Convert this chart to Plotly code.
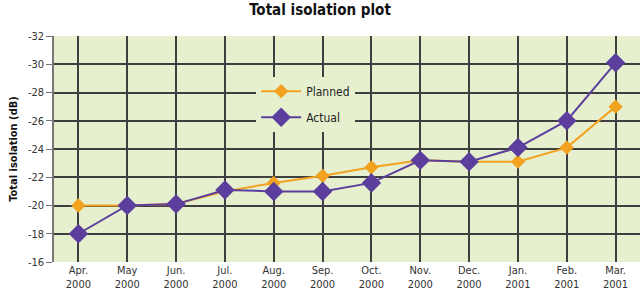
import plotly.graph_objects as go

months = ["Apr.<br>2000", "May<br>2000", "Jun.<br>2000", "Jul.<br>2000", "Aug.<br>2000", "Sep.<br>2000",
          "Oct.<br>2000", "Nov.<br>2000", "Dec.<br>2000", "Jan.<br>2001", "Feb.<br>2001", "Mar.<br>2001"]
planned = [-20.0, -20.0, -20.1, -21.0, -21.6, -22.1, -22.7, -23.2, -23.1, -23.1, -24.1, -27.0]
actual = [-18.0, -20.0, -20.1, -21.1, -21.0, -21.0, -21.6, -23.2, -23.1, -24.1, -26.0, -30.1]
y_ticks = [-32, -30, -28, -26, -24, -22, -20, -18, -16]

FONT = "DejaVu Sans Condensed, Liberation Sans Narrow, Arial Narrow, sans-serif"

fig = go.Figure()
fig.add_trace(go.Scatter(x=months, y=planned, name="Planned", mode="lines+markers", legendgroup="p",
                         line=dict(color="#f2a21e", width=2),
                         marker=dict(symbol="diamond", size=11, color="#f2a21e")))
fig.add_trace(go.Scatter(x=months, y=actual, name="Actual", mode="lines+markers", legendgroup="a",
                         line=dict(color="#5c3f9c", width=2),
                         marker=dict(symbol="diamond", size=15, color="#5c3f9c")))

fig.update_layout(
    width=640, height=295,
    margin=dict(l=54, r=0, t=36, b=33),
    paper_bgcolor="white",
    plot_bgcolor="#e6f0cf",
    title=dict(text="<b>Total isolation plot</b>", x=0.5, xanchor="center", y=0.985, yanchor="top",
               font=dict(family=FONT, size=15, color="#111")),
    showlegend=True,
    legend=dict(x=0.345, y=0.82, xanchor="left", yanchor="top", bgcolor="#e6f0cf",
                traceorder="grouped", tracegroupgap=7,
                font=dict(family=FONT, size=12, color="#222"), itemwidth=40),
    font=dict(family=FONT, size=11, color="#333"),
)
fig.update_xaxes(type="category", range=[-0.5, 11.5], showgrid=True, gridcolor="#3f3f3f", gridwidth=1.6,
                 showline=False, ticks="", tickfont=dict(family=FONT, size=11, color="#333"),
                 zeroline=False)
fig.update_yaxes(range=[-16, -32], tickvals=y_ticks, ticktext=[str(v) for v in y_ticks],
                 showgrid=True, gridcolor="#3f3f3f", gridwidth=1.6, zeroline=False,
                 showline=True, linecolor="#777", linewidth=1.5, ticks="outside", ticklen=6,
                 tickcolor="#777", tickfont=dict(family=FONT, size=11, color="#333"),
                 title=dict(text="<b>Total isolation (dB)</b>", standoff=8,
                            font=dict(family=FONT, size=11, color="#111")))

fig.write_html("out.html")
